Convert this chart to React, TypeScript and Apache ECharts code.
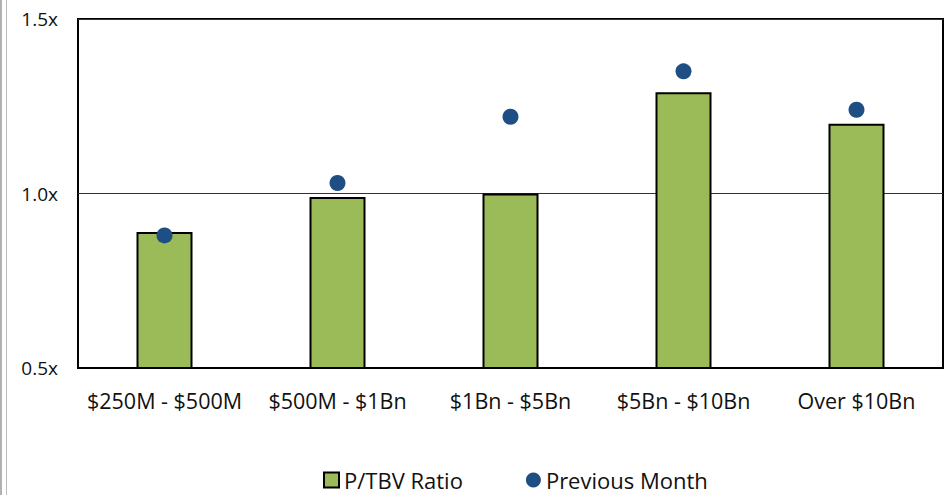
import React, { useEffect, useRef } from "react";
import * as echarts from "echarts";

const categories = ["$250M - $500M", "$500M - $1Bn", "$1Bn - $5Bn", "$5Bn - $10Bn", "Over $10Bn"];
const ptbvRatio = [0.89, 0.99, 1.0, 1.29, 1.2];
const previousMonth = [0.88, 1.03, 1.22, 1.35, 1.24];
const yTicks = [0.5, 1.0, 1.5];

const FONT = "'Open Sans', 'Noto Sans', sans-serif";

export default function App() {
  const ref = useRef<HTMLDivElement>(null);
  useEffect(() => {
    if (!ref.current) return;
    const chart = echarts.init(ref.current, null, { renderer: "svg" });
    chart.setOption({
      animation: false,
      backgroundColor: "#ffffff",
      textStyle: { fontFamily: FONT },
      grid: { left: 78, top: 19, right: 3, bottom: 127, show: true, borderColor: "#000", borderWidth: 2, containLabel: false },
      legend: {
        bottom: -1,
        left: 318,
        itemGap: 63,
        itemWidth: 15,
        itemHeight: 15,
        textStyle: { fontFamily: FONT, fontSize: 22, color: "#111" },
        data: [
          { name: "P/TBV Ratio", icon: "rect" },
          { name: "Previous Month", icon: "circle", itemStyle: { borderWidth: 0 } },
        ],
      },
      xAxis: {
        type: "category",
        data: categories,
        axisLine: { show: true, lineStyle: { color: "#000", width: 2 } },
        axisTick: { show: false },
        axisLabel: { fontFamily: FONT, fontSize: 21.5, color: "#111", margin: 21, interval: 0 },
      },
      yAxis: {
        type: "value",
        min: yTicks[0],
        max: yTicks[yTicks.length - 1],
        interval: 0.5,
        axisLine: { show: false },
        axisTick: { show: false },
        splitLine: { show: true, lineStyle: { color: "#333", width: 1 } },
        axisLabel: {
          fontFamily: FONT,
          fontSize: 19,
          color: "#111",
          margin: 20,
          formatter: (v: number) => `${v.toFixed(1)}x`,
        },
      },
      series: [
        {
          name: "P/TBV Ratio",
          type: "bar",
          data: ptbvRatio,
          barWidth: 56,
          itemStyle: { color: "#9BBB59", borderColor: "#000", borderWidth: 2 },
          z: 2,
        },
        {
          name: "Previous Month",
          type: "scatter",
          data: previousMonth,
          symbol: "circle",
          symbolSize: 16,
          itemStyle: { color: "#1F4E85", opacity: 1 },
          z: 3,
        },
      ],
      graphic: [
        { type: "line", shape: { x1: 1, y1: 0, x2: 1, y2: 495 }, style: { stroke: "#999", lineWidth: 1.5 } },
        { type: "line", shape: { x1: 6.5, y1: 0, x2: 6.5, y2: 495 }, style: { stroke: "#bbb", lineWidth: 1 } },
      ],
    });
    return () => chart.dispose();
  }, []);
  return <div ref={ref} style={{ width: 946, height: 495, position: "absolute", left: 0, top: 0 }} />;
}
